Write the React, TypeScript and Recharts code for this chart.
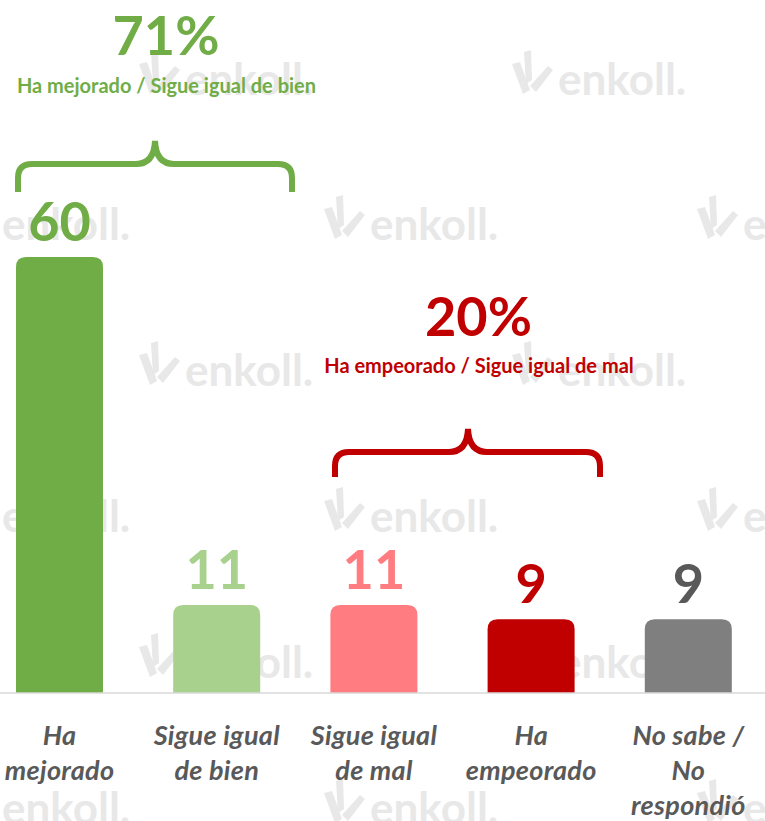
import React from 'react';
import { BarChart, Bar, XAxis, YAxis, Cell, LabelList } from 'recharts';

const categories = ['Ha\nmejorado', 'Sigue igual\nde bien', 'Sigue igual\nde mal', 'Ha\nempeorado', 'No sabe /\nNo\nrespondió'];
const values = [60, 11, 11, 9, 9];
const barColors = ['#70AD47', '#A9D18E', '#FF7C80', '#C00000', '#7F7F7F'];
const labelColors = ['#70AD47', '#A9D18E', '#FF7C80', '#C00000', '#595959'];

const groupTotals = ['71%', '20%'];
const groupNames = ['Ha mejorado / Sigue igual de bien', 'Ha empeorado / Sigue igual de mal'];

const data = categories.map((name, i) => ({ name, value: values[i] }));

const FONT = 'Lato, "Open Sans", sans-serif';

// watermark "enkoll." positions (logo left, text baseline)
const marks: [number, number][] = [
  [137, 95], [510, 95],
  [-46, 240], [322, 240], [695, 240],
  [137, 386], [510, 386],
  [-46, 532], [322, 532], [695, 532],
  [137, 678], [510, 678],
  [-46, 824], [322, 824], [695, 824],
];

const RoundedBar = (props: any) => {
  const { x, y, width, height, fill, background } = props;
  const bottom = background ? background.y + background.height : y + height;
  const r = 10;
  const h = bottom - y;
  const d = `M${x},${bottom} V${y + r} Q${x},${y} ${x + r},${y} H${x + width - r} Q${x + width},${y} ${x + width},${y + r} V${bottom} Z`;
  return h > 0 ? <path d={d} fill={fill} /> : null;
};

const ValueLabel = (props: any) => {
  const { x, y, width, value, index } = props;
  return (
    <text x={x + width / 2} y={y - 16} textAnchor="middle" fill={labelColors[index]}
      style={{ fontFamily: FONT, fontWeight: 700, fontSize: 54 }}>
      {value}
    </text>
  );
};

const CategoryTick = (props: any) => {
  const { x, y, payload } = props;
  const lines = String(payload.value).split('\n');
  return (
    <text x={x} y={y} textAnchor="middle" fill="#595959"
      style={{ fontFamily: FONT, fontWeight: 700, fontStyle: 'italic', fontSize: 27, letterSpacing: 0.3 }}>
      {lines.map((l, i) => (
        <tspan key={i} x={x} y={y + 52 + i * 35}>{l}</tspan>
      ))}
    </text>
  );
};

const Watermark = ({ x, y }: { x: number; y: number }) => (
  <g transform={`translate(${x},${y - 45})`} fill="#E8E8E8">
    <path d="M2,14 L10,12 L20,40 L13,44 Z" />
    <path d="M14,2 L21,0 L22,30 L16,34 Z" />
    <path d="M20,36 L38,16 L43,20 L26,42 Z" />
    <text x={48} y={45} style={{ fontFamily: FONT, fontWeight: 700, fontSize: 44 }}>enkoll.</text>
  </g>
);

export default function App() {
  return (
    <div style={{ position: 'absolute', left: 0, top: 0, width: 765, height: 821, overflow: 'hidden', background: '#fff' }}>
      <svg width={765} height={821} style={{ position: 'absolute', left: 0, top: 0 }}>
        {marks.map(([mx, my], i) => <Watermark key={i} x={mx} y={my} />)}
      </svg>
      <div style={{ position: 'absolute', left: -19, top: 0 }}>
        <BarChart width={786} height={821} data={data} margin={{ top: 257, right: 0, bottom: 0, left: 0 }} barSize={87}>
          <XAxis dataKey="name" height={128} tickSize={0} tickMargin={0} interval={0}
            axisLine={{ stroke: '#D9D9D9', strokeWidth: 1.5 }} tickLine={false} tick={<CategoryTick />} />
          <YAxis hide domain={[-1.4, 60]} />
          <Bar dataKey="value" shape={<RoundedBar />} isAnimationActive={false}>
            {data.map((_, i) => <Cell key={i} fill={barColors[i]} />)}
            <LabelList dataKey="value" content={<ValueLabel />} />
          </Bar>
        </BarChart>
      </div>
      <svg width={765} height={821} style={{ position: 'absolute', left: 0, top: 0, pointerEvents: 'none' }}>
        <path d="M18 192 V178 Q18 164 32 164 H136 Q154 164 155 141 Q156 164 174 164 H278 Q292 164 292 178 V192"
          fill="none" stroke="#70AD47" strokeWidth={6} />
        <path d="M335 477 V466 Q335 452 349 452 H449 Q467 452 468 429 Q469 452 487 452 H586 Q600 452 600 466 V477"
          fill="none" stroke="#C00000" strokeWidth={6} />
        <text x={166} y={55} textAnchor="middle" fill="#70AD47" style={{ fontFamily: FONT, fontWeight: 700, fontSize: 54 }}>{groupTotals[0]}</text>
        <text x={166.5} y={93} textAnchor="middle" fill="#70AD47" style={{ fontFamily: FONT, fontWeight: 700, fontSize: 20 }}>{groupNames[0]}</text>
        <text x={478.5} y={336} textAnchor="middle" fill="#C00000" style={{ fontFamily: FONT, fontWeight: 700, fontSize: 54 }}>{groupTotals[1]}</text>
        <text x={479} y={373} textAnchor="middle" fill="#C00000" style={{ fontFamily: FONT, fontWeight: 700, fontSize: 20 }}>{groupNames[1]}</text>
      </svg>
    </div>
  );
}
